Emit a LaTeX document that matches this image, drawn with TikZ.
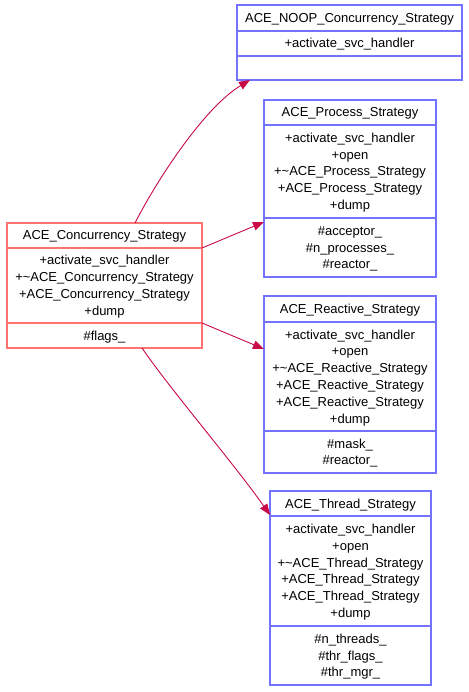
\documentclass[tikz,border=0pt]{standalone}
\usepackage{fontspec}
\setmainfont{Liberation Sans}
\usetikzlibrary{arrows.meta}
\definecolor{redbox}{RGB}{255,115,115}
\definecolor{bluebox}{RGB}{115,115,255}
\definecolor{edgecol}{RGB}{200,10,70}
\newcommand{\ls}{\rule[-3.9pt]{0pt}{16.8pt}}
\tikzset{
  umlbox/.style={draw=#1, line width=1.3pt, rectangle, inner sep=0pt, outer sep=0pt, anchor=north west},
  sepline/.style={draw=#1, line width=1.3pt},
  txt/.style={inner sep=0pt, align=center, font=\fontsize{13}{16.8}\selectfont},
  inherit/.style={draw=edgecol, line width=0.9pt, -{Triangle[length=11pt,width=8.5pt]}}
}
\begin{document}
\begin{tikzpicture}[x=1pt,y=-1pt]
\useasboundingbox (0,0) rectangle (468,692);
% ACE_Concurrency_Strategy
\node[umlbox=redbox, minimum width=195pt, minimum height=125pt] (conc) at (7,223) {};
\draw[sepline=redbox] ([yshift=-25pt]conc.north west) -- ([yshift=-25pt]conc.north east);
\draw[sepline=redbox] ([yshift=-100pt]conc.north west) -- ([yshift=-100pt]conc.north east);
\node[txt] (conct) at (104.5,235.5) {\ls ACE\_Concurrency\_Strategy};
\node[txt] (concm) at (104.5,285.5) {\ls +activate\_svc\_handler\\\ls +\textasciitilde ACE\_Concurrency\_Strategy\\\ls +ACE\_Concurrency\_Strategy\\\ls +dump};
\node[txt] (conca) at (104.5,335.5) {\ls \#flags\_};
% ACE_NOOP_Concurrency_Strategy
\node[umlbox=bluebox, minimum width=225pt, minimum height=75pt] (noop) at (237,5) {};
\draw[sepline=bluebox] ([yshift=-26pt]noop.north west) -- ([yshift=-26pt]noop.north east);
\draw[sepline=bluebox] ([yshift=-51pt]noop.north west) -- ([yshift=-51pt]noop.north east);
\node[txt] (noopt) at (349.5,18) {\ls ACE\_NOOP\_Concurrency\_Strategy};
\node[txt] (noopm) at (349.5,43.5) {\ls +activate\_svc\_handler};
% ACE_Process_Strategy
\node[umlbox=bluebox, minimum width=172pt, minimum height=177pt] (proc) at (264,100) {};
\draw[sepline=bluebox] ([yshift=-25pt]proc.north west) -- ([yshift=-25pt]proc.north east);
\draw[sepline=bluebox] ([yshift=-118pt]proc.north west) -- ([yshift=-118pt]proc.north east);
\node[txt] (proct) at (350,112.5) {\ls ACE\_Process\_Strategy};
\node[txt] (procm) at (350,171.5) {\ls +activate\_svc\_handler\\\ls +open\\\ls +\textasciitilde ACE\_Process\_Strategy\\\ls +ACE\_Process\_Strategy\\\ls +dump};
\node[txt] (proca) at (350,247.5) {\ls \#acceptor\_\\\ls \#n\_processes\_\\\ls \#reactor\_};
% ACE_Reactive_Strategy
\node[umlbox=bluebox, minimum width=172pt, minimum height=177pt] (react) at (264,296) {};
\draw[sepline=bluebox] ([yshift=-26pt]react.north west) -- ([yshift=-26pt]react.north east);
\draw[sepline=bluebox] ([yshift=-135pt]react.north west) -- ([yshift=-135pt]react.north east);
\node[txt] (reactt) at (350,309) {\ls ACE\_Reactive\_Strategy};
\node[txt] (reactm) at (350,376.5) {\ls +activate\_svc\_handler\\\ls +open\\\ls +\textasciitilde ACE\_Reactive\_Strategy\\\ls +ACE\_Reactive\_Strategy\\\ls +ACE\_Reactive\_Strategy\\\ls +dump};
\node[txt] (reacta) at (350,452) {\ls \#mask\_\\\ls \#reactor\_};
% ACE_Thread_Strategy
\node[umlbox=bluebox, minimum width=161pt, minimum height=194pt] (thread) at (270,491) {};
\draw[sepline=bluebox] ([yshift=-25pt]thread.north west) -- ([yshift=-25pt]thread.north east);
\draw[sepline=bluebox] ([yshift=-135pt]thread.north west) -- ([yshift=-135pt]thread.north east);
\node[txt] (threadt) at (350.5,503.5) {\ls ACE\_Thread\_Strategy};
\node[txt] (threadm) at (350.5,571) {\ls +activate\_svc\_handler\\\ls +open\\\ls +\textasciitilde ACE\_Thread\_Strategy\\\ls +ACE\_Thread\_Strategy\\\ls +ACE\_Thread\_Strategy\\\ls +dump};
\node[txt] (threada) at (350.5,655.5) {\ls \#n\_threads\_\\\ls \#thr\_flags\_\\\ls \#thr\_mgr\_};
% connectors
\draw[inherit] ([xshift=128pt]conc.north west) .. controls +(23,-45) and +(-45,27) .. ([xshift=13pt]noop.south west);
\draw[inherit] ([yshift=-25pt]conc.north east) -- ([yshift=-122pt]proc.north west);
\draw[inherit] ([yshift=-100pt]conc.north east) -- ([yshift=-53pt]react.north west);
\draw[inherit] ([xshift=135pt]conc.south west) .. controls +(28,41) and +(-35,-50) .. ([yshift=-24pt]thread.north west);
\end{tikzpicture}
\end{document}
